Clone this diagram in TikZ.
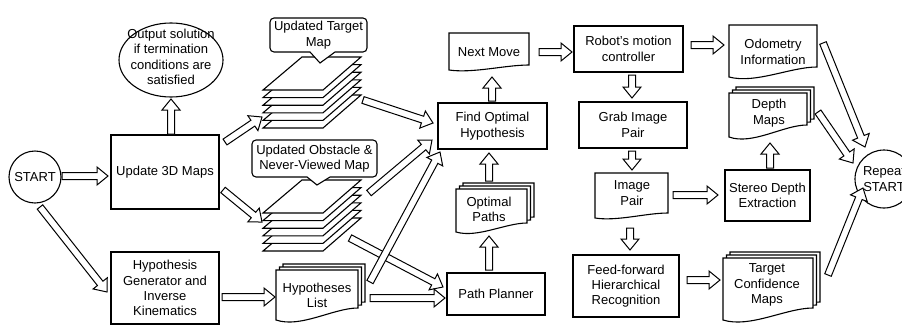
\documentclass[tikz,border=0pt]{standalone}
\usepackage{fontspec}
\setmainfont{Liberation Sans}
\usetikzlibrary{calc,shapes.geometric}
\def\aw{3.5pt}\def\ah{9pt}\def\ahl{11pt}
\tikzset{
  lw/.style={line width=1.1pt},
  box/.style={draw, lw, align=center, inner sep=0pt},
  circ/.style={draw, circle, lw, inner sep=0pt},
  txt/.style={align=center, inner sep=0pt},
  harr/.style={draw, fill=white, line width=1pt, line join=miter},
  sheet/.style={draw, lw, fill=white, line join=miter},
  callout/.style={draw, lw, fill=white}
}
% hollow block arrow from #1 to #2
\newcommand\harrow[2]{%
  \coordinate (hA) at (#1);
  \coordinate (hB) at (#2);
  \coordinate (hC) at ($(hB)!\ahl!(hA)$);
  \path[harr] ($(hA)!\aw!90:(hB)$) -- ($(hC)!\aw!-90:(hA)$) -- ($(hC)!\ah!-90:(hA)$) -- (hB)
    -- ($(hC)!\ah!90:(hA)$) -- ($(hC)!\aw!90:(hA)$) -- ($(hA)!\aw!-90:(hB)$) -- cycle;
}
% document outline: x, y(top), w, h(left side), wave d, number of sheets
\newcommand\docu[6]{%
  \pgfmathtruncatemacro\nlast{#6-1}
  \foreach \k in {\nlast,...,0}{%
    \pgfmathsetmacro\xa{#1+3.5*\k}
    \pgfmathsetmacro\ya{#2-3*\k}
    \path[sheet] (\xa,\ya) -- ({\xa+#3},\ya) -- ({\xa+#3},{\ya+#4-#5})
      .. controls ({\xa+0.7*#3},{\ya+#4-#5}) and ({\xa+0.3*#3},{\ya+#4+0.7*#5}) .. (\xa,{\ya+#4}) -- cycle;
  }%
}
% stack of map layers, vertical offset #1
\newcommand\layers[1]{%
  \foreach \k in {5,...,0}{%
    \path[sheet] (263,{90+#1+7.6*\k}) -- (302,{57+#1+7.6*\k}) -- (361,{57+#1+7.6*\k}) -- (323,{90+#1+7.6*\k}) -- cycle;
  }%
}
\begin{document}
\begin{tikzpicture}[x=1pt,y=-1pt,font=\fontsize{13}{15.3}\selectfont]
\useasboundingbox (0,0) rectangle (902,327);

% circles and ellipse
\node[circ, minimum size=52pt] (start) at (35,177) {};
\node[txt] at (start) {START};
\node[draw, lw, ellipse, minimum width=104pt, minimum height=74pt, inner sep=0pt] (out) at (171,60) {};
\node[txt] at (171,57) {Output solution\\if termination\\conditions are\\satisfied};
\node[circ, minimum size=58pt] (repeat) at (884,179) {};
\node[txt] at (repeat) {Repeat\\START};

% boxes
\node[box, minimum width=108pt, minimum height=74pt] (upd) at (165,172) {Update 3D Maps};
\node[box, minimum width=108pt, minimum height=72pt] (hyp) at (165,288) {Hypothesis\\Generator and\\Inverse\\Kinematics};
\node[box, minimum width=109pt, minimum height=46pt] (find) at (492.5,126) {Find Optimal\\Hypothesis};
\node[box, minimum width=98pt, minimum height=42pt] (path) at (496,294) {Path Planner};
\node[box, minimum width=109pt, minimum height=46pt] (robot) at (628.5,49) {Robot's motion\\controller};
\node[box, minimum width=108pt, minimum height=46pt] (grab) at (633,125) {Grab Image\\Pair};
\node[box, minimum width=85pt, minimum height=51pt] (stereo) at (767.5,195.5) {Stereo Depth\\Extraction};
\node[box, minimum width=106pt, minimum height=62pt] (ff) at (626,286) {Feed-forward\\Hierarchical\\Recognition};

% map layer stacks with callouts
\layers{0}
\coordinate (stkA) at (263,90);
\path[callout] (310,52) [rounded corners=4pt] -- (270,52) -- (270,18) -- (367,18) -- (367,52) [sharp corners] -- (335,52) -- (320,63) -- cycle;
\node[txt] (cA) at (318.5,35) {Updated Target\\Map};
\layers{123}
\coordinate (stkB) at (263,213);
\path[callout] (307,177) [rounded corners=4pt] -- (252,177) -- (252,140) -- (377,140) -- (377,177) [sharp corners] -- (330,177) -- (317,185) -- cycle;
\node[txt] (cB) at (314.5,158.5) {Updated Obstacle \&\\Never-Viewed Map};

% documents
\docu{449}{33}{80}{37}{5}{1}
\node[txt] (nextm) at (489,52) {Next Move};
\docu{456}{189}{71}{43}{9}{3}
\node[txt] (optp) at (489,209) {Optimal\\Paths};
\docu{276}{270}{82}{50}{12}{3}
\node[txt] (hypl) at (317,295) {Hypotheses\\List};
\docu{595}{173}{73}{45}{5}{1}
\node[txt] (imgp) at (632,193) {Image\\Pair};
\docu{729}{25}{88}{52}{10}{1}
\node[txt] (odo) at (773,52) {Odometry\\Information};
\docu{729}{93}{78}{44}{12}{3}
\node[txt] (depth) at (769,113) {Depth\\Maps};
\docu{723}{258}{90}{62}{12}{3}
\node[txt] (target) at (767,285) {Target\\Confidence\\Maps};

% arrows
\harrow{[shift={(27,-1)}]start.center}{[shift={(-57,4)}]upd.center}
\harrow{[shift={(6,-38)}]upd.center}{[shift={(0,39)}]out.center}
\harrow{[shift={(5,30)}]start.center}{[shift={(-58,4)}]hyp.center}
\harrow{[shift={(60,-30)}]upd.center}{[shift={(-1,27)}]stkA}
\harrow{[shift={(58,18)}]upd.center}{[shift={(-1,9)}]stkB}
\harrow{[shift={(57,9)}]hyp.center}{[shift={(-42,2)}]hypl.center}
\harrow{[shift={(100,10)}]stkA}{[shift={(-59.5,-3)}]find.center}
\harrow{[shift={(106,-20)}]stkB}{[shift={(-60.5,14)}]find.center}
\harrow{[shift={(87,25)}]stkB}{[shift={(-53,-7)}]path.center}
\harrow{[shift={(53,-13)}]hypl.center}{[shift={(-52.5,26)}]find.center}
\harrow{[shift={(53,3)}]hypl.center}{[shift={(-51,4)}]path.center}
\harrow{[shift={(-7,-24)}]path.center}{[shift={(0,27)}]optp.center}
\harrow{[shift={(0,-28)}]optp.center}{[shift={(-3.5,27)}]find.center}
\harrow{[shift={(-0.5,-25)}]find.center}{[shift={(3,25)}]nextm.center}
\harrow{[shift={(50,0)}]nextm.center}{[shift={(-56.5,3)}]robot.center}
\harrow{[shift={(3.5,26)}]robot.center}{[shift={(-1,-27)}]grab.center}
\harrow{[shift={(62.5,-4)}]robot.center}{[shift={(-49,-7)}]odo.center}
\harrow{[shift={(-1,26)}]grab.center}{[shift={(0,-23)}]imgp.center}
\harrow{[shift={(41,2)}]imgp.center}{[shift={(-49.5,-0.5)}]stereo.center}
\harrow{[shift={(-2,35)}]imgp.center}{[shift={(4,-36)}]ff.center}
\harrow{[shift={(2.5,-27.5)}]stereo.center}{[shift={(1,30)}]depth.center}
\harrow{[shift={(61,-6)}]ff.center}{[shift={(-47,-5)}]target.center}
\harrow{[shift={(50,-9)}]odo.center}{[shift={(-19,-32)}]repeat.center}
\harrow{[shift={(49,-1)}]depth.center}{[shift={(-31,-16)}]repeat.center}
\harrow{[shift={(61,-10)}]target.center}{[shift={(-21,9)}]repeat.center}
\end{tikzpicture}
\end{document}
